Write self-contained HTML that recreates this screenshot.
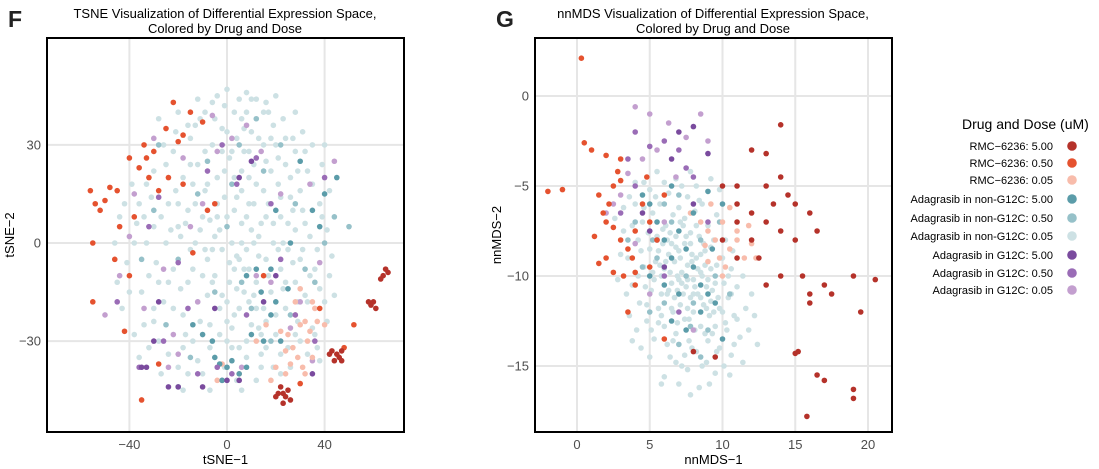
<!DOCTYPE html>
<html><head><meta charset="utf-8"><style>
html,body{margin:0;padding:0;background:#fff;}
svg{display:block;font-family:"Liberation Sans",Arial,sans-serif;}
</style></head><body>
<svg id="chart" width="1099" height="469" viewBox="0 0 1099 469">
<g id="staticLayer"></g>
</svg>
<script>
// ---------- Panel F (tSNE) data ----------
const fXTicks=[-40,0,40];
const fYTicks=[30,0,-30];
const fXTickLabels=["\u221240","0","40"];
const fYTickLabels=["30","0","\u221230"];
const fRmc500=[[65,-8],[64,-10],[66,-9],[63,-11],[60,-18],[59,-19],[61,-20],[58,-18],[43,-33],[45,-34],[46,-35],[44,-36],[47,-36],[42,-34],[22,-44],[23,-46],[24,-47],[21,-46],[25,-45],[20,-47],[23,-49],[26,-48],[47,-33]];
const fRmc050=[[-56,16],[-54,12],[-52,10],[-50,13],[-48,17],[-45,16],[-40,26],[-36,23],[-33,26],[-30,28],[-25,35],[-22,43],[-20,31],[-18,33],[-15,40],[-32,20],[-28,16],[-38,8],[-44,5],[-55,0],[-46,-5],[-40,-10],[-55,-18],[-42,-27],[-18,18],[-8,10],[-5,12],[-34,30],[-10,37],[-24,20],[-35,-48],[-28,-37],[52,-25],[48,-32],[30,-43],[15,-10],[-14,-3],[38,-20]];
const fRmc005=[[28,-22],[30,-25],[32,-24],[34,-27],[36,-20],[25,-28],[27,-32],[29,-35],[31,-38],[26,-37],[24,-33],[33,-30],[35,-18],[37,-24],[22,-27],[20,-38],[18,-42],[24,-40],[-2,-37],[-4,-42],[5,-40],[30,-14],[40,-25],[28,-18],[32,-40],[35,-35],[12,-30],[16,-25]];
const fNon500=[[-5,-35],[-3,-37],[0,-38],[2,-36],[5,-40],[8,-38],[10,-28],[15,-30],[18,-22],[14,-15],[20,-18],[25,-14],[12,-8],[8,-10],[-10,-28],[-14,-25],[18,-8],[22,-30],[30,25],[35,10],[40,15],[45,20],[38,5],[-20,-44],[-2,-42],[26,0],[20,10],[-6,-30]];
const fNon050=[[-30,10],[-20,-5],[-12,15],[5,30],[15,22],[28,12],[40,0],[32,-8],[10,-20],[-5,-15],[-25,-25],[0,5],[22,30],[-8,25],[44,8],[36,-12],[-35,-5],[12,38],[-15,-35],[6,-12],[26,-22],[-28,30],[50,5],[18,-30],[2,18]];
const fNon005=[[-40,-15],[-38,0],[-36,12],[-34,-25],[-32,-10],[-30,5],[-30,22],[-28,-30],[-26,-18],[-25,0],[-24,12],[-22,28],[-22,-8],[-20,-38],[-20,5],[-18,-22],[-18,20],[-16,10],[-16,-12],[-15,32],[-14,-30],[-13,0],[-12,24],[-12,-18],[-10,8],[-10,-40],[-9,40],[-8,-5],[-8,18],[-7,-25],[-6,30],[-5,2],[-5,-10],[-4,45],[-4,12],[-3,-20],[-2,35],[-2,-2],[-1,22],[0,-30],[0,8],[1,-12],[2,28],[2,0],[3,40],[3,-22],[4,14],[5,-5],[5,-32],[6,22],[6,6],[7,35],[7,-15],[8,-2],[9,28],[9,12],[10,-25],[10,44],[11,0],[12,18],[12,-12],[13,32],[14,6],[14,-38],[15,-20],[16,25],[16,-5],[17,40],[17,12],[18,-15],[19,0],[20,30],[20,-28],[21,18],[22,-8],[22,8],[23,38],[24,-20],[24,24],[25,-2],[26,14],[27,32],[28,-12],[28,4],[29,22],[30,-30],[30,-5],[31,10],[32,28],[33,-18],[34,2],[35,18],[36,-8],[36,-28],[38,12],[39,24],[40,-18],[41,4],[42,-10],[-36,-35],[-27,-40],[-18,-45],[-7,-45],[6,-45],[12,-42],[22,-40],[-33,18],[-38,-28],[-43,-20],[-44,8],[-28,38],[-20,40],[-12,44],[0,47],[8,46],[20,45],[28,40],[-6,-12],[3,-8],[-9,-2],[14,-28],[-1,-38],[26,-38],[-14,-8],[8,-35],[-24,-12],[-30,-20]];
const fNon005b=[[-19,2],[-17,6],[-15,-2],[-13,12],[-11,4],[-9,16],[-7,7],[-6,-2],[-4,20],[-3,4],[-1,14],[1,26],[1,-6],[3,10],[4,32],[4,-14],[6,0],[6,16],[7,28],[8,8],[9,-8],[9,20],[10,34],[11,12],[11,-16],[12,26],[13,2],[13,-4],[15,16],[15,30],[16,8],[17,-10],[18,22],[19,36],[19,6],[21,-2],[21,26],[22,14],[23,-14],[24,32],[25,6],[26,20],[27,-6],[28,28],[29,-18],[30,16],[31,-2],[32,6],[33,22],[34,-10],[35,30],[37,-2],[38,-14],[39,8],[40,30],[42,16],[43,-4],[-21,16],[-23,4],[-25,24],[-27,8],[-29,-6],[-31,14],[-33,0],[-35,-15],[-37,6],[-39,18],[-41,-6],[-19,-14],[-17,-28],[-15,24],[-13,36],[-11,-24],[-9,28],[-7,-32],[-5,38],[-3,-28],[-1,42],[0,-18],[2,-26],[4,-4],[5,-20],[6,38],[8,-30],[10,4],[11,24],[12,-20],[14,-34],[15,40],[16,-24],[18,32],[20,-22],[22,-34],[23,0],[25,-32],[27,10],[29,-24],[31,34],[33,-34],[35,-26],[37,-32],[-8,-16],[-10,-10],[-12,-36],[-14,18],[-16,-40],[-18,-32],[-20,12],[-22,-20],[-24,-34],[-26,30],[-28,-12],[-30,-24],[-32,-32],[-34,8],[-2,-16],[0,-24],[2,-32],[4,-42],[7,-8],[9,-18],[13,-26],[16,-32],[19,-38],[24,-12],[28,-28],[32,-16],[-4,8],[-2,28],[0,34],[3,20],[5,44],[8,40],[12,44],[16,43],[-6,43],[-11,38],[-16,36],[-21,34],[44,-16],[41,-24],[38,-36],[-45,-12],[-42,12],[-46,0]];
const fG500=[[-35,-38],[-33,-38],[-24,-44],[-20,-44],[-10,-44],[0,-42],[5,-42],[15,-18],[-28,-18],[5,20],[10,25],[-5,-20],[20,-10],[35,-40],[-30,-30]];
const fG050=[[-45,-18],[-36,-38],[-26,-30],[-16,-20],[-8,22],[-2,30],[4,18],[12,26],[22,-5],[28,-22],[36,-30],[-12,-40],[-4,-38],[2,-40],[-20,-6],[-32,5],[18,12],[40,20],[-28,14],[8,-22]];
const fG005=[[-50,-22],[-44,-10],[-40,2],[-38,15],[-34,-20],[-30,32],[-26,-8],[-22,-28],[-20,-34],[-18,26],[-15,5],[-12,-18],[-10,12],[-6,39],[-4,28],[2,32],[8,36],[14,28],[18,-12],[22,15],[26,-26],[30,-18],[34,18],[38,-6],[44,25],[35,-36],[-2,-42],[6,-38],[-24,-38],[12,-10]];

// ---------- Panel G (nnMDS) data ----------
const gXTicks=[0,5,10,15,20];
const gYTicks=[0,-5,-10,-15];
const gXTickLabels=["0","5","10","15","20"];
const gYTickLabels=["0","\u22125","\u221210","\u221215"];
const gRmc500=[[10,-5],[11,-6],[12,-6.5],[13,-5],[13.5,-6],[14,-4.5],[14.5,-5.5],[15,-6],[13,-7],[14,-7.5],[15,-8],[16,-6.5],[16.5,-7.5],[14,-1.6],[13,-3.2],[12,-3],[11,-5],[15.5,-10],[16,-11],[17,-10.5],[17.5,-11],[16,-11.5],[19,-10],[20.5,-10.2],[19.5,-12],[15.2,-14.2],[15,-14.3],[16.5,-15.5],[17,-15.8],[19,-16.3],[19,-16.8],[15.8,-17.8],[10,-8],[11,-9],[12.5,-9],[14,-10],[13,-10.5],[8,-14.2],[9.5,-14.5],[11,-7],[12,-8]];
const gRmc050=[[0.3,2.1],[-2,-5.3],[-1,-5.2],[0.5,-2.6],[1,-3],[2,-3.3],[3,-3.5],[1.5,-5.5],[1.8,-6.5],[2,-7],[2.5,-7.3],[3,-8],[3.5,-8.5],[2,-9],[1.5,-9.3],[2.5,-9.8],[3.2,-10],[4,-10.5],[3.8,-9],[2.2,-6],[4,-7.5],[4.5,-6],[5,-7],[4.8,-4.5],[3,-4.7],[2.5,-5],[4,-9.8],[6,-13.5],[3.5,-12],[6,-5.5],[5.5,-8],[1.2,-7.8],[2.8,-4.2],[5,-9.5]];
const gRmc005=[[8.5,-7],[9,-7.5],[9.5,-8],[10,-7],[10.5,-8.5],[11,-8],[11.5,-9],[9.8,-9],[10.2,-9.5],[9,-9.2],[11,-7.5],[12,-8.2],[10,-10],[8.8,-8.3],[12.3,-9],[7.8,-6.5],[10.5,-6.2],[9.2,-6],[11.8,-7.2]];
const gNon500=[[4.5,-5.5],[5,-6],[5.5,-7],[6,-8],[6.5,-9],[7,-7.5],[7.5,-8.5],[8,-9.5],[8.5,-10.5],[9,-11],[7,-11],[6,-10.5],[9.5,-11.5],[8.5,-12],[5,-10],[10,-13.5],[7.5,-13],[6.5,-12.5],[8,-6.5],[9,-5.3],[10,-6],[6.5,-5],[9.3,-8.5]];
const gNon050=[[4,-7],[5.5,-9],[6.5,-7],[7.5,-10],[8.5,-8],[9.5,-10],[5,-12],[7,-13.8],[8,-11.5],[9,-13],[6,-6],[4.5,-9.5],[10.5,-11],[3.5,-8],[7,-5.5],[8.5,-14.5],[6,-11.5],[9.8,-7],[5.2,-8],[7.8,-12.8]];
const gNon005=[[3.2,-7.5],[3.5,-9],[3.8,-10.5],[4,-6],[4.2,-8],[4.3,-11.5],[4.5,-7],[4.6,-9.5],[4.8,-12.5],[5,-5.2],[5,-8.5],[5.1,-10.8],[5.2,-6.5],[5.3,-13.5],[5.4,-9.2],[5.5,-7.8],[5.6,-11.8],[5.7,-6],[5.8,-10],[5.9,-8.2],[6,-12.8],[6,-9.6],[6.1,-7.2],[6.2,-11],[6.3,-5.4],[6.3,-8.8],[6.4,-14.5],[6.5,-10.4],[6.6,-6.6],[6.6,-12],[6.7,-9.2],[6.8,-7.8],[6.8,-13.2],[6.9,-10.8],[7,-6.2],[7,-8.6],[7.1,-11.6],[7.2,-9.8],[7.2,-15],[7.3,-7.2],[7.4,-12.4],[7.4,-8.2],[7.5,-10.6],[7.6,-5.6],[7.6,-9.4],[7.7,-13.6],[7.8,-11.2],[7.8,-7.6],[7.9,-8.8],[8,-10.2],[8,-12],[8.1,-6.4],[8.2,-9],[8.2,-14.2],[8.3,-11],[8.4,-7.8],[8.5,-12.8],[8.5,-9.8],[8.6,-6],[8.7,-11.6],[8.8,-8.6],[8.9,-10.6],[9,-13.6],[9,-7.2],[9.1,-12.2],[9.2,-9.6],[9.3,-10.8],[9.4,-8],[9.5,-12.8],[9.6,-6.6],[9.7,-11.2],[9.8,-14],[9.9,-9],[10,-12],[10.1,-10.4],[10.2,-8],[10.3,-13],[10.4,-11.2],[10.6,-9.6],[10.8,-12.2],[11,-10.6],[11.2,-13.4],[5.5,-4.2],[6.8,-4.6],[8.2,-5],[4.1,-13],[5,-14.5],[7,-16],[9.5,-15.4],[10.5,-15.5],[3.6,-12.2],[6,-15.6],[8.4,-16.2],[11.4,-14.8],[4.6,-4.8],[7.8,-4.2],[9.8,-5.2],[3,-8.8],[2.8,-10.2],[6.2,-8],[7.2,-10.4],[8.6,-10],[6.4,-9.8],[7.6,-11.8],[5.8,-12.2],[9.2,-11.4],[6.9,-12.6],[8.1,-13],[5.3,-10.2],[7.1,-7],[7.9,-9.2],[6.7,-11.2],[8.8,-9.4],[5.9,-7.4],[7.4,-14.4],[8.9,-14.8],[4.4,-14],[10.8,-13.8],[11.6,-11.8],[2.6,-6.8],[12,-11]];
const gNon005b=[[4.4,-8.6],[4.9,-7.6],[5.2,-9.8],[5.6,-8.6],[5.8,-11],[6.1,-9.2],[6.4,-7.6],[6.5,-11.8],[6.8,-8.4],[6.9,-10],[7.1,-9],[7.3,-11],[7.4,-6.8],[7.6,-10.2],[7.8,-8.2],[8,-11],[8.2,-7.2],[8.3,-9.6],[8.5,-11.2],[8.7,-8.2],[8.8,-13.2],[9,-10.2],[9.2,-8.4],[9.4,-12],[9.6,-9.4],[9.8,-11.8],[10,-9],[10.2,-12.6],[10.4,-10],[10.6,-11],[5.6,-12.6],[6.2,-13.8],[6.8,-14.8],[7.6,-15.2],[8.6,-15],[9.6,-14.2],[10.6,-14.4],[4.8,-11.6],[4.2,-10],[3.8,-7.2],[4.6,-6.2],[5.4,-5.6],[6,-4.8],[7.2,-5],[8.4,-5.8],[9.2,-4.6],[3.4,-11],[3.2,-6.2],[11,-12.4],[11.4,-10],[6.6,-13.6],[7.9,-14],[9.3,-13.2],[5.1,-13],[6.3,-10.8],[7.7,-12.4],[8.9,-11.8],[5.7,-9.4],[7,-10.2],[8.1,-10.6],[9.5,-10.4],[6.5,-8.2],[7.5,-7.8],[8.5,-8.8],[4.7,-10.6],[10.7,-8.6],[11.8,-13],[12.2,-12.2],[3.8,-13.6],[5.8,-16],[7.8,-16.6],[9.1,-16],[10.1,-15],[12.4,-13.8],[4,-4.8],[3.6,-5.6]];
const gG500=[[7,-2],[8,-1.7],[6.5,-3.5],[9,-3.2],[4.5,-6.5],[5,-7.5],[8,-6],[6,-9.5]];
const gG050=[[4,-2],[5,-2.8],[6,-2.5],[7,-3],[7.5,-4],[4,-5],[3,-6.5],[5.5,-8],[6,-10],[7,-12],[8,-4.5],[9,-7],[3.5,-3.5]];
const gG005=[[4,-0.6],[5,-1],[6.3,-1.5],[8.5,-1],[9,-2.5],[5.5,-3],[4.5,-3.5],[3.5,-4.3],[6.8,-4.5],[3,-5.5],[2.5,-6],[4,-8.2],[5,-11],[8,-13],[7.5,-2.3],[6,-7],[2,-6.5]];

// ---------- legend ----------
const legendLabels=["RMC\u22126236: 5.00","RMC\u22126236: 0.50","RMC\u22126236: 0.05","Adagrasib in non-G12C: 5.00","Adagrasib in non-G12C: 0.50","Adagrasib in non-G12C: 0.05","Adagrasib in G12C: 5.00","Adagrasib in G12C: 0.50","Adagrasib in G12C: 0.05"];
const colors=["#b5322a","#e5522f","#f8bcab","#5b9ca9","#96c1c9","#cde1e4","#7a4b9e","#9a6cb6","#c39fcf"];

const NS="http://www.w3.org/2000/svg";
const svg=document.getElementById('chart');
function mk(tag,attrs,parent){const e=document.createElementNS(NS,tag);for(const k in attrs)e.setAttribute(k,attrs[k]);(parent||svg).appendChild(e);return e;}

function panel(cfg){
  const {L,R,T,B,xs,ys}=cfg;
  const g=mk('g',{});
  
  
  cfg.xTicks.forEach((v,i)=>{
    const ln=mk('line',{x1:xs(v),x2:xs(v),y1:T,y2:B,stroke:'#e6e6e6','stroke-width':2},g);
    
    
    const t=mk('text',{x:xs(v),y:B+17,'text-anchor':'middle','font-size':13,fill:'#4d4d4d'},g);
    t.textContent=cfg.xTickLabels[i];
    
    
  });
  cfg.yTicks.forEach((v,i)=>{
    const ln=mk('line',{x1:L,x2:R,y1:ys(v),y2:ys(v),stroke:'#e6e6e6','stroke-width':2},g);
    
    
    const t=mk('text',{x:L-6,y:ys(v)+4.5,'text-anchor':'end','font-size':13,fill:'#4d4d4d'},g);
    t.textContent=cfg.yTickLabels[i];
    
    
  });
  cfg.series.forEach((s,si)=>{
    const sg=mk('g',{fill:colors[s.c]},g);
    
    
    s.d.forEach(p=>{
      const c=mk('circle',{cx:xs(p[0]),cy:ys(p[1]),r:2.8},sg);
      
      
    });
  });
  const fr=mk('rect',{x:L,y:T,width:R-L,height:B-T,fill:'none',stroke:'#000','stroke-width':2},g);
  
  
  const xt=mk('text',{x:(L+R)/2,y:B+32,'text-anchor':'middle','font-size':13,fill:'#000'},g);
  xt.textContent=cfg.xTitle;
  
  
  const yt=mk('text',{x:0,y:0,'text-anchor':'middle','font-size':13,fill:'#000',transform:`translate(${cfg.yTitleX},${(T+B)/2}) rotate(-90)`},g);
  yt.textContent=cfg.yTitle;
  
  
  cfg.title.forEach((line,i)=>{
    const t=mk('text',{x:cfg.titleX,y:18+i*15,'text-anchor':'middle','font-size':13,fill:'#000'},g);
    t.textContent=line;
    
    
  });
  const lt=mk('text',{x:cfg.letterX,y:27,'font-size':23,'font-weight':'bold',fill:'#222'},g);
  lt.textContent=cfg.letter;
  
  
}

panel({name:'tsne-panel',L:47,R:404,T:38,B:432,
  xs:v=>227+v*2.44, ys:v=>243-v*3.27,
  xTicks:fXTicks,yTicks:fYTicks,xTickLabels:fXTickLabels,yTickLabels:fYTickLabels,
  xTitle:'tSNE\u22121',yTitle:'tSNE\u22122',yTitleX:14,titleX:225,letterX:8,letter:'F',
  title:['TSNE Visualization of Differential Expression Space,','Colored by Drug and Dose'],
  series:[{n:'non-g12c-0-05',c:5,d:fNon005.concat(fNon005b)},{n:'non-g12c-0-50',c:4,d:fNon050},{n:'g12c-0-05',c:8,d:fG005},{n:'rmc-0-05',c:2,d:fRmc005},{n:'non-g12c-5-00',c:3,d:fNon500},{n:'g12c-0-50',c:7,d:fG050},{n:'g12c-5-00',c:6,d:fG500},{n:'rmc-0-50',c:1,d:fRmc050},{n:'rmc-5-00',c:0,d:fRmc500}]
});
panel({name:'nnmds-panel',L:535,R:892,T:38,B:432,
  xs:v=>577+v*14.55, ys:v=>96-v*18,
  xTicks:gXTicks,yTicks:gYTicks,xTickLabels:gXTickLabels,yTickLabels:gYTickLabels,
  xTitle:'nnMDS\u22121',yTitle:'nnMDS\u22122',yTitleX:501,titleX:713,letterX:496,letter:'G',
  title:['nnMDS Visualization of Differential Expression Space,','Colored by Drug and Dose'],
  series:[{n:'non-g12c-0-05',c:5,d:gNon005.concat(gNon005b)},{n:'non-g12c-0-50',c:4,d:gNon050},{n:'g12c-0-05',c:8,d:gG005},{n:'rmc-0-05',c:2,d:gRmc005},{n:'non-g12c-5-00',c:3,d:gNon500},{n:'g12c-0-50',c:7,d:gG050},{n:'g12c-5-00',c:6,d:gG500},{n:'rmc-0-50',c:1,d:gRmc050},{n:'rmc-5-00',c:0,d:gRmc500}]
});

const lg=mk('g',{});


const ltt=mk('text',{x:962,y:129,'font-size':14,fill:'#000'},lg);
ltt.textContent='Drug and Dose (uM)';


const legY=[146,163,180,199,218,236,255,273,290];
legendLabels.forEach((lab,i)=>{
  const e=mk('g',{},lg);
  
  
  const t=mk('text',{x:1053,y:legY[i]+4,'text-anchor':'end','font-size':11,fill:'#000'},e);
  t.textContent=lab;
  const c=mk('circle',{cx:1072,cy:legY[i],r:4.8,fill:colors[i]},e);
});
</script>
</body></html>
